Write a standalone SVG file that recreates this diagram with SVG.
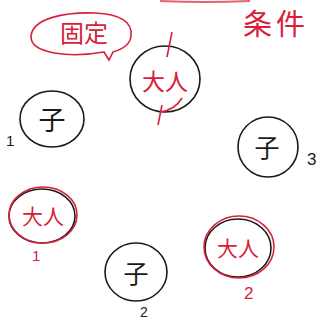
<svg xmlns="http://www.w3.org/2000/svg" width="326" height="320" viewBox="0 0 326 320">
<style>
.blk{fill:none;stroke:#1a1a1a;stroke-width:1.6}
.red{fill:none;stroke:#d8203a;stroke-width:1.6}
.tr{fill:#d8203a;font-family:"Noto Sans CJK JP","Noto Sans CJK SC",sans-serif}
.tb{fill:#1a1a1a;font-family:"Noto Sans CJK JP","Noto Sans CJK SC",sans-serif}
.nb{fill:#1a1a1a;font-family:"Liberation Sans",sans-serif}
.nr{fill:#d8203a;font-family:"Liberation Sans",sans-serif}
</style>
<rect width="326" height="320" fill="#ffffff"/>
<path d="M160 1 Q205 3 250 1" stroke="#d8203a" stroke-width="2" fill="none" opacity="0.7"/>
<text class="tr" x="243" y="35" font-size="29" letter-spacing="4">条件</text>
<g id="bubble">
<path class="red" d="M104 52 C70 58 30 54 31 36 C33 18 65 12 95 13 C120 14 133 22 131 36 C130 46 120 50 113 52 L109 60 L104 52 Z"/>
<text class="tr" x="84" y="42" font-size="24" text-anchor="middle">固定</text>
</g>
<g id="adult-top">
<ellipse class="blk" cx="165" cy="79" rx="35" ry="33"/>
<path class="red" d="M182 98 Q175 110 160 112"/>
<line class="red" x1="172" y1="32" x2="167" y2="57"/>
<line class="red" x1="162" y1="105" x2="158" y2="125"/>
<text class="tr" x="165" y="90" font-size="23" text-anchor="middle">大人</text>
</g>
<g id="child-1">
<ellipse class="blk" cx="52" cy="119" rx="32" ry="28"/>
<text class="tb" x="52" y="130" font-size="27" text-anchor="middle">子</text>
<text class="nb" x="6" y="146" font-size="15">1</text>
</g>
<g id="child-3">
<ellipse class="blk" cx="268" cy="147" rx="30" ry="30"/>
<text class="tb" x="267" y="157" font-size="25" text-anchor="middle">子</text>
<text class="nb" x="307" y="165" font-size="17">3</text>
</g>
<g id="adult-1">
<ellipse class="blk" cx="42" cy="216" rx="33" ry="27"/>
<ellipse class="red" cx="43" cy="215" rx="34" ry="28"/>
<text class="tr" x="43" y="224" font-size="21" text-anchor="middle">大人</text>
<text class="nr" x="32" y="261" font-size="15">1</text>
</g>
<g id="child-2">
<ellipse class="blk" cx="136" cy="272" rx="31" ry="29"/>
<text class="tb" x="136" y="283" font-size="25" text-anchor="middle">子</text>
<text class="nb" x="140" y="317" font-size="14">2</text>
</g>
<g id="adult-2">
<ellipse class="blk" cx="238" cy="248" rx="33" ry="29"/>
<ellipse class="red" cx="239" cy="247" rx="35" ry="31"/>
<text class="tr" x="238" y="256" font-size="21" text-anchor="middle">大人</text>
<text class="nr" x="244" y="299" font-size="17">2</text>
</g>
</svg>
